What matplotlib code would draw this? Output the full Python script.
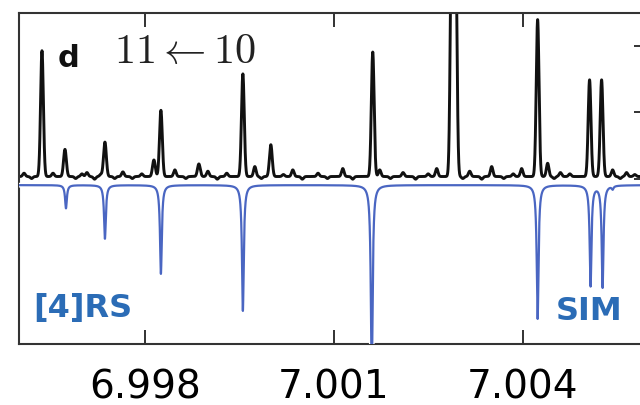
import numpy as np
import matplotlib
matplotlib.use("Agg")
import matplotlib.pyplot as plt
import matplotlib.patheffects as pe

# measured spectrum: line centres (GHz) and peak heights
obs_pos = [6.996365, 6.996730, 6.997365, 6.998143, 6.998254, 6.998857,
           6.999556, 7.000000, 7.001619, 7.002873, 7.002933, 7.004238,
           7.005063, 7.005254]
obs_amp = [1.90, 0.41, 0.52, 0.25, 1.00, 0.19,
           1.55, 0.48, 1.88, 3.8, 3.8, 2.37,
           1.46, 1.46]

# weak features / wiggles on the baseline of the measured trace
weak_pos = [6.996080, 6.996200, 6.996540, 6.996900, 6.997000, 6.997079,
            6.997200, 6.997300, 6.997520, 6.997650, 6.997800, 6.997950,
            6.998476, 6.998650, 6.999000, 6.999150, 6.999300, 6.999746,
            6.999850, 7.000200, 7.000349, 7.000500, 7.000750, 7.000900,
            7.001143, 7.001300, 7.001730, 7.001900, 7.002100, 7.002300,
            7.002500, 7.002635, 7.003050, 7.003159, 7.003350, 7.003508,
            7.003700, 7.003850, 7.003984, 7.004397, 7.004500, 7.004600,
            7.004750, 7.005429, 7.005550, 7.005650, 7.005780]
weak_amp = [0.05, -0.03, 0.05, -0.03, 0.04, 0.06,
            -0.04, 0.03, -0.03, 0.07, -0.03, 0.04,
            0.10, -0.03, 0.08, -0.04, 0.05, 0.15,
            -0.03, 0.03, 0.10, -0.04, 0.05, -0.03,
            0.12, -0.04, 0.10, -0.03, 0.06, -0.04,
            0.04, 0.12, -0.03, 0.08, -0.04, 0.15,
            -0.03, 0.04, 0.12, 0.20, -0.03, 0.06,
            0.04, 0.10, -0.03, 0.06, 0.03]

# simulated spectrum (drawn downwards)
sim_pos = [6.996746, 6.997365, 6.998254, 6.999556, 7.001603, 7.004238,
           7.005079, 7.005270, 7.005429]
sim_amp = [0.35, 0.81, 1.34, 1.90, 2.90, 2.02, 1.52, 1.54, 0.05]

xticks = [6.998, 7.001, 7.004]
xticklabels = ["6.998", "7.001", "7.004"]

x = np.linspace(6.996, 7.00588, 12000)

def gauss(pos, amp, sig):
    y = np.zeros_like(x)
    for p, a in zip(pos, amp):
        y += a * np.exp(-0.5 * ((x - p) / sig) ** 2)
    return y

def lorentz(pos, amp, gam):
    y = np.zeros_like(x)
    for p, a in zip(pos, amp):
        y += a * gam ** 2 / ((x - p) ** 2 + gam ** 2)
    return y

obs = 0.03 + gauss(obs_pos, obs_amp, 0.000022) + gauss(weak_pos, weak_amp, 0.000020)
sim = -0.1 - lorentz(sim_pos, sim_amp, 0.000017)

plt.rcParams["mathtext.fontset"] = "cm"
fig = plt.figure(figsize=(6.4, 4.06), dpi=100)
ax = fig.add_axes([19 / 640, 61 / 406, 622 / 640, 331 / 406])

blue = "#4a66c2"
ax.plot(x, obs, color="#111111", lw=2.1, zorder=2)
ax.plot(x, sim, color=blue, lw=1.6, zorder=3,
        path_effects=[pe.withStroke(linewidth=3.4, foreground="white")])

ax.set_xlim(6.996, 7.00588)
ax.set_ylim(-2.5, 2.5)
ax.set_xticks(xticks)
ax.set_xticklabels(xticklabels)
ax.set_yticks([0, 1, 2])
ax.tick_params(axis="x", direction="in", length=10, width=1.3, top=True,
               labelsize=28, pad=17, color="#222222")
ax.tick_params(axis="y", direction="in", length=5, width=1.3, left=False,
               right=True, labelleft=False, color="#222222")
for s in ax.spines.values():
    s.set_color("#333333")
    s.set_linewidth(1.5)

ax.text(58 / 640, 1 - 67 / 406, "d", transform=fig.transFigure,
        fontsize=22, fontweight="bold", color="#111111")
ax.text(114 / 640, 1 - 63 / 406, r"$11\leftarrow10$", transform=fig.transFigure,
        fontsize=30.5, color="#222222")
ax.text(33 / 640, 1 - 317 / 406, "[4]RS", transform=fig.transFigure,
        fontsize=23, fontweight="bold", color="#2b6cb6")
ax.text(556 / 640, 1 - 320 / 406, "SIM", transform=fig.transFigure,
        fontsize=23, fontweight="bold", color="#2b6cb6")

fig.savefig("out.png", dpi=100)
